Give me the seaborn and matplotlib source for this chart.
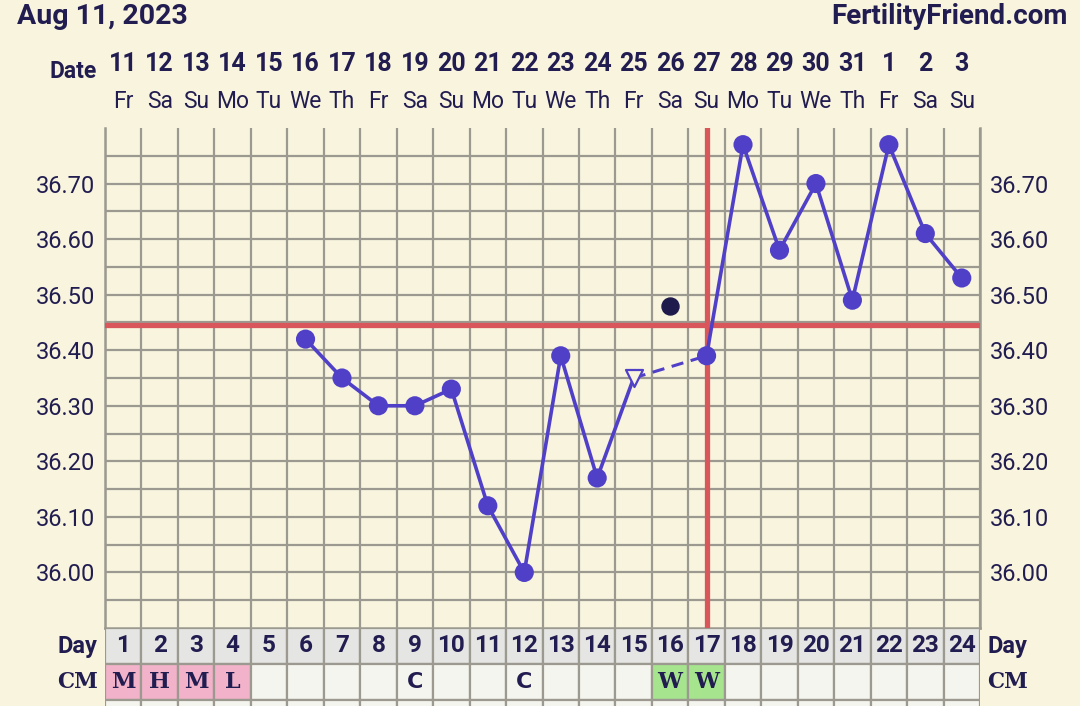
import matplotlib
matplotlib.use("Agg")
import matplotlib.pyplot as plt
import matplotlib.transforms as mtransforms
from matplotlib.patches import Rectangle
import numpy as np
import pandas as pd
import seaborn as sns

# chart data
cycle_days = list(range(1, 25))
dates = [11, 12, 13, 14, 15, 16, 17, 18, 19, 20, 21, 22, 23, 24, 25, 26, 27,
         28, 29, 30, 31, 1, 2, 3]
weekdays = ["Fr", "Sa", "Su", "Mo", "Tu", "We", "Th"] * 3 + ["Fr", "Sa", "Su"]

solid_a_days = [6, 7, 8, 9, 10, 11, 12, 13, 14, 15]
solid_a_temps = [36.42, 36.35, 36.30, 36.30, 36.33, 36.12, 36.00, 36.39, 36.17, 36.35]
dashed_days = [15, 17]
dashed_temps = [36.35, 36.39]
solid_b_days = [17, 18, 19, 20, 21, 22, 23, 24]
solid_b_temps = [36.39, 36.77, 36.58, 36.70, 36.49, 36.77, 36.61, 36.53]
open_days = [15]
open_temps = [36.35]
excluded_days = [16]
excluded_temps = [36.48]

coverline = 36.445
ovulation_day = 17

cm_codes = ["M", "H", "M", "L", "", "", "", "", "C", "", "", "C",
            "", "", "", "W", "W", "", "", "", "", "", "", ""]
cm_fill = {"M": "#f2b2c9", "H": "#f2b2c9", "L": "#f2b2c9", "W": "#a6e48e"}

ytick_vals = [36.00, 36.10, 36.20, 36.30, 36.40, 36.50, 36.60, 36.70]

BG = "#f8f4de"
INK = "#221d50"
LINE = "#5040c8"
RED = "#d9575a"
GRID = "#9c9a90"

sns.set_theme(style="white")
plt.rcParams["font.family"] = ["Roboto", "DejaVu Sans"]

W, H = 1080, 706
fig = plt.figure(figsize=(W / 100, H / 100), dpi=100)
fig.patch.set_facecolor(BG)

L, R, T, B = 105, 980, 128, 628
ax = fig.add_axes([L / W, (H - B) / H, (R - L) / W, (B - T) / H])
ax.set_facecolor(BG)

# grid
ax.set_xlim(0.5, 24.5)
ax.set_ylim(35.90, 36.80)
ax.set_xticks(np.arange(0.5, 25, 1))
ax.set_xticklabels([])
ax.set_yticks(ytick_vals)
ax.set_yticklabels([f"{v:.2f}" for v in ytick_vals])
ax.set_yticks(np.arange(35.95, 36.80, 0.1), minor=True)
ax.grid(True, which="both", color=GRID, lw=1.6)
ax.tick_params(axis="both", which="both", length=0)
ax.tick_params(axis="y", labelleft=True, labelright=True, labelsize=17,
               labelcolor=INK, pad=7)
for s in ax.spines.values():
    s.set_color(GRID)
    s.set_linewidth(1.8)
ax.spines["top"].set_visible(False)

# cover line and ovulation line
ax.axhline(coverline, color=RED, lw=3.8, zorder=3)
ax.axvline(ovulation_day, color=RED, lw=3.8, zorder=3)

# temperature series
df_a = pd.DataFrame({"day": solid_a_days, "temp": solid_a_temps})
df_b = pd.DataFrame({"day": solid_b_days, "temp": solid_b_temps})
sns.lineplot(data=df_a, x="day", y="temp", ax=ax, color=LINE, lw=2.6, zorder=4)
sns.lineplot(data=df_b, x="day", y="temp", ax=ax, color=LINE, lw=2.6, zorder=4)
ax.plot(dashed_days, dashed_temps, color=LINE, lw=2.2, ls=(0, (4, 2.5)), zorder=4)

pts_a = df_a[~df_a["day"].isin(open_days)]
sns.scatterplot(data=pts_a, x="day", y="temp", ax=ax, color=LINE, s=190,
                edgecolor="none", zorder=5)
sns.scatterplot(data=df_b, x="day", y="temp", ax=ax, color=LINE, s=190,
                edgecolor="none", zorder=5)
ax.scatter(open_days, open_temps, marker="v", s=150, facecolor=BG,
           edgecolor=LINE, linewidth=1.6, zorder=5)
ax.scatter(excluded_days, excluded_temps, s=150, color="#1e1a4c", zorder=5)
ax.set_xlabel("")
ax.set_ylabel("")

# header
fig.text(17 / W, 1 - 17 / H, "Aug 11, 2023", ha="left", va="center",
         fontsize=20.5, fontweight="bold", color=INK)
fig.text(1068 / W, 1 - 17 / H, "FertilityFriend.com", ha="right", va="center",
         fontsize=20, fontweight="bold", color=INK)
fig.text(97 / W, 1 - 72 / H, "Date", ha="right", va="center",
         fontsize=16.5, fontweight="bold", color=INK)
hdr = mtransforms.blended_transform_factory(ax.transData, fig.transFigure)
for d, dt, wd in zip(cycle_days, dates, weekdays):
    ax.text(d, 1 - 64 / H, str(dt), transform=hdr, ha="center", va="center",
            fontsize=18, fontweight="bold", color=INK, clip_on=False)
    ax.text(d, 1 - 101 / H, wd, transform=hdr, ha="center", va="center",
            fontsize=16.5, color=INK, clip_on=False)

# table of cycle day and cervical mucus
tax = fig.add_axes([L / W, 0, (R - L) / W, (H - B) / H])
tax.set_xlim(0.5, 24.5)
tax.set_ylim(-6 / 36, 2)
tax.axis("off")
for d, code in zip(cycle_days, cm_codes):
    tax.add_patch(Rectangle((d - 0.5, 1), 1, 1, facecolor="#e5e5e3",
                            edgecolor=GRID, lw=1.6))
    tax.add_patch(Rectangle((d - 0.5, 0), 1, 1, facecolor=cm_fill.get(code, "#f5f5ef"),
                            edgecolor=GRID, lw=1.6))
    tax.add_patch(Rectangle((d - 0.5, -1), 1, 1, facecolor="#f5f5ef",
                            edgecolor=GRID, lw=1.6))
    tax.text(d, 1.5, str(d), ha="center", va="center", fontsize=17.5,
             fontweight="bold", color=INK)
    if code:
        fam = ["DejaVu Sans"] if code == "C" else ["DejaVu Serif"]
        tax.text(d, 0.5, code, ha="center", va="center", fontsize=16,
                 fontweight="bold", color=INK, family=fam)
for lab, yy in [("Day", 1.5), ("CM", 0.5)]:
    fam = ["DejaVu Serif"] if lab == "CM" else ["Roboto", "DejaVu Sans"]
    size = 15.5 if lab == "CM" else 17
    tax.text(0.3, yy, lab, ha="right", va="center", fontsize=size,
             fontweight="bold", color=INK, clip_on=False, family=fam)
    tax.text(24.7, yy, lab, ha="left", va="center", fontsize=size,
             fontweight="bold", color=INK, clip_on=False, family=fam)

fig.savefig("out.png", dpi=100, facecolor=BG)
